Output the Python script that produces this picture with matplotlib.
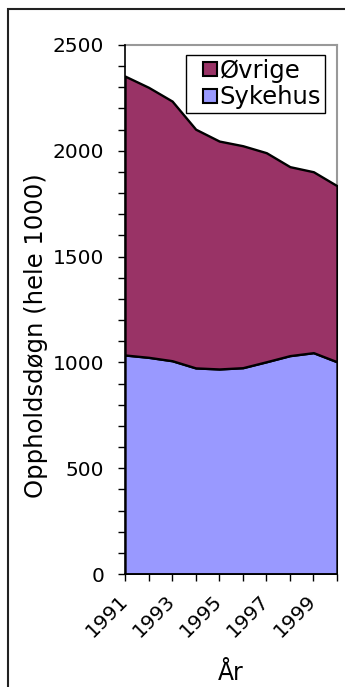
import matplotlib
matplotlib.use("Agg")
import matplotlib.pyplot as plt
from matplotlib.patches import Patch, Rectangle
from matplotlib.legend_handler import HandlerBase
from matplotlib.ticker import MultipleLocator
from matplotlib.transforms import ScaledTranslation

# Overnight stays (thousands) by year
years = [1991, 1992, 1993, 1994, 1995, 1996, 1997, 1998, 1999, 2000]
sykehus = [1035, 1024, 1008, 974, 969, 975, 1003, 1032, 1046, 1003]
ovrige = [1318, 1276, 1227, 1128, 1077, 1049, 988, 893, 855, 832]
tick_labels = ["1991", "", "1993", "", "1995", "", "1997", "", "1999", ""]

col_sykehus = "#9999FF"
col_ovrige = "#993366"

plt.rcParams["font.family"] = ["DejaVu Sans"]


class SquareHandler(HandlerBase):
    """Draws a small square key at the right end of the handle box."""

    def create_artists(self, legend, orig_handle, xdescent, ydescent,
                       width, height, fontsize, trans):
        size = 0.58 * fontsize
        x0 = width - size - xdescent
        y0 = (height - size) / 2 - ydescent
        r = Rectangle((x0, y0), size, size,
                      facecolor=orig_handle.get_facecolor(),
                      edgecolor="black", linewidth=1.5, transform=trans)
        return [r]


fig = plt.figure(figsize=(3.45, 6.87), dpi=100)
ax = fig.add_axes([125 / 345, 1 - 574 / 687, 212 / 345, 529 / 687])

total = [s + o for s, o in zip(sykehus, ovrige)]
x = list(range(len(years)))

ax.fill_between(x, 0, sykehus, facecolor=col_sykehus, edgecolor="black",
                linewidth=1.7, zorder=2)
ax.fill_between(x, sykehus, total, facecolor=col_ovrige, edgecolor="black",
                linewidth=1.7, zorder=2)

ax.set_xlim(0, len(years) - 1)
ax.set_ylim(0, 2500)
ax.yaxis.set_major_locator(MultipleLocator(500))
ax.yaxis.set_minor_locator(MultipleLocator(100))
ax.set_xticks(x)
ax.set_xticklabels(tick_labels, rotation=45, ha="right", va="center",
                   rotation_mode="anchor", fontsize=14.5)
for lab in ax.get_xticklabels():
    lab.set_transform(lab.get_transform()
                      + ScaledTranslation(-0.13, 0, fig.dpi_scale_trans))

ax.tick_params(axis="y", which="both", direction="out", length=5, width=1,
               labelsize=14.5, pad=10)
ax.tick_params(axis="x", direction="out", length=5, width=1, pad=12)

ax.spines["left"].set_color("black")
ax.spines["bottom"].set_color("black")
ax.spines["left"].set_linewidth(1.2)
ax.spines["bottom"].set_linewidth(1.2)
for s in ("top", "right"):
    ax.spines[s].set_color("#999999")
    ax.spines[s].set_linewidth(1.5)
    ax.spines[s].set_zorder(1)

ax.set_ylabel("Oppholdsdøgn (hele 1000)", fontsize=17.5)
ax.yaxis.set_label_coords(-0.365, 0.45)
ax.set_xlabel("År", fontsize=17)
ax.xaxis.set_label_coords(0.5, -0.165)

handles = [Patch(facecolor=col_ovrige), Patch(facecolor=col_sykehus)]
leg = ax.legend(handles, ["Øvrige", "Sykehus"], loc="upper left",
                bbox_to_anchor=(61 / 212, 1 - 10 / 529), fontsize=17.5,
                frameon=True, fancybox=False, framealpha=1,
                edgecolor="black", handlelength=1.12, handleheight=0.7,
                handletextpad=0.12, borderpad=0.15, labelspacing=0.1,
                borderaxespad=0, handler_map={Patch: SquareHandler()})
leg.get_frame().set_linewidth(1.0)

# Outer frame around the figure
fig.patches.append(Rectangle((8 / 345, -0.05), 1.1, 1 - 9 / 687 + 0.05,
                             transform=fig.transFigure, fill=False,
                             edgecolor="#222222", linewidth=1.5))

fig.savefig("out.png", dpi=100)
